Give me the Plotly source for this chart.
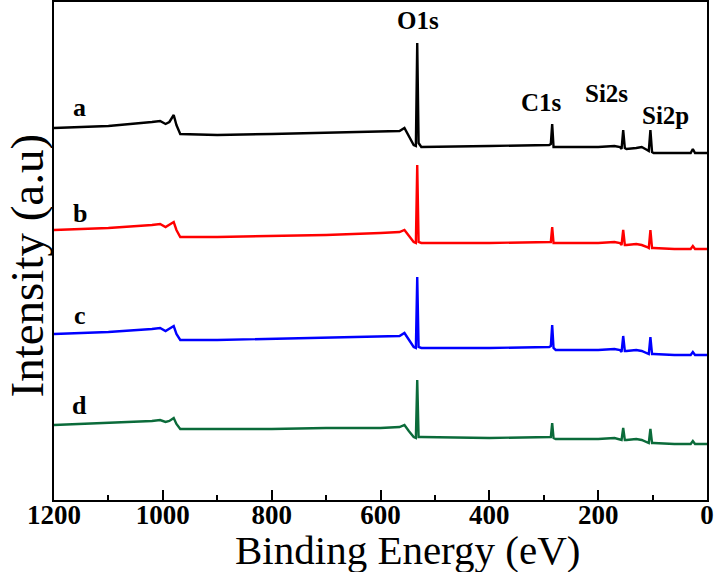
import plotly.graph_objects as go

# Binding energy (eV), descending
energy = [1200, 1100, 1020, 1005, 995, 988, 980, 975, 968, 900, 800, 700, 600,
          565, 556, 548, 539, 535, 532.5, 530, 525, 400, 300, 290, 287, 284.5,
          282, 278, 200, 170, 160, 157, 154, 151, 148, 130, 120, 110, 107, 104,
          101, 98, 60, 30, 26, 22, 0]

# Intensities (a.u., stacked spectra)
int_a = [372, 374, 378, 379, 376, 378, 385, 375, 366, 365, 366, 367, 368, 369,
         372, 364, 355, 354, 457, 357, 353, 354, 355, 355, 356, 376, 353, 353,
         353, 354, 353, 351, 370, 352, 351, 352, 353, 350, 349, 370, 348, 347,
         347, 347, 351, 347, 347]
int_b = [270, 272, 275, 276, 273, 275, 278, 270, 263, 263, 264, 265, 267, 268,
         270, 264, 258, 257, 335, 258, 257, 257, 258, 258, 258, 273, 257, 257,
         257, 258, 257, 255, 270, 255, 255, 256, 255, 253, 252, 270, 252, 252,
         251, 251, 254, 251, 251]
int_c = [166, 168, 171, 172, 169, 171, 174, 166, 160, 160, 161, 162, 163, 164,
         167, 160, 153, 152, 223, 153, 152, 152, 153, 153, 154, 175, 152, 150,
         150, 151, 150, 148, 164, 149, 149, 150, 149, 147, 146, 163, 146, 146,
         145, 145, 148, 145, 145]
int_d = [75, 77, 79, 80, 78, 79, 82, 76, 71, 71, 71, 72, 72, 73, 75, 69, 63,
         62, 120, 63, 63, 62, 63, 63, 63, 77, 62, 61, 61, 62, 61, 60, 72, 60,
         60, 61, 60, 58, 57, 71, 57, 57, 56, 56, 59, 56, 56]

series_names = ["a", "b", "c", "d"]
series_colors = ["#000000", "#ff0000", "#0000ff", "#0b6b3a"]
series_values = [int_a, int_b, int_c, int_d]

# Sample label positions (energy, intensity)
sample_label_x = [1153, 1152, 1152, 1154]
sample_label_y = [393, 287, 185, 95]

# Peak labels
peak_names = ["O1s", "C1s", "Si2s", "Si2p"]
peak_label_x = [531, 305, 184, 77]
peak_label_y = [480, 398, 407, 385]

x_ticks = [1200, 1000, 800, 600, 400, 200, 0]

fig = go.Figure()
for name, color, vals in zip(series_names, series_colors, series_values):
    fig.add_trace(go.Scatter(x=energy, y=vals, mode="lines", name=name,
                             line=dict(color=color, width=2.4),
                             showlegend=False))

serif = "Liberation Serif"
for name, x, y in zip(series_names, sample_label_x, sample_label_y):
    fig.add_annotation(x=x, y=y, text="<b>%s</b>" % name, showarrow=False,
                       font=dict(family=serif, size=26, color="black"))
for name, x, y in zip(peak_names, peak_label_x, peak_label_y):
    fig.add_annotation(x=x, y=y, text="<b>%s</b>" % name, showarrow=False,
                       font=dict(family=serif, size=25, color="black"))

# Axis titles
fig.add_annotation(xref="paper", yref="paper", x=0.542, y=-0.1, yanchor="middle",
                   xanchor="center", text="Binding Energy (eV)", showarrow=False,
                   font=dict(family=serif, size=41, color="black"))
fig.add_annotation(xref="paper", yref="paper", x=-0.042, y=0.47, textangle=-90,
                   xanchor="center", yanchor="middle", text="Intensity (a.u)",
                   showarrow=False, font=dict(family=serif, size=47, color="black"))

fig.update_layout(
    width=715, height=572,
    margin=dict(l=54, r=8, t=2, b=72, autoexpand=False),
    plot_bgcolor="white", paper_bgcolor="white",
    font=dict(family=serif, color="black"),
)
fig.update_xaxes(
    range=[1200, 0], tickvals=x_ticks,
    ticktext=["<b>%d</b>" % v for v in x_ticks],
    ticks="inside", ticklen=10, tickwidth=1.5, tickcolor="black",
    minor=dict(dtick=100, ticks="inside", ticklen=5, tickwidth=1.5, tickcolor="black"),
    tickfont=dict(family=serif, size=27, color="black"),
    ticklabelstandoff=-10,
    showline=True, linewidth=2, linecolor="black", mirror=True,
    showgrid=False, zeroline=False, automargin=False,
)
fig.update_yaxes(
    range=[0, 498], showticklabels=False, ticks="",
    showline=True, linewidth=2, linecolor="black", mirror=True,
    showgrid=False, zeroline=False, automargin=False,
)

fig.write_html("out.html", config={"displayModeBar": False},
               post_script="document.body.style.margin='0';document.body.style.overflow='hidden';")
